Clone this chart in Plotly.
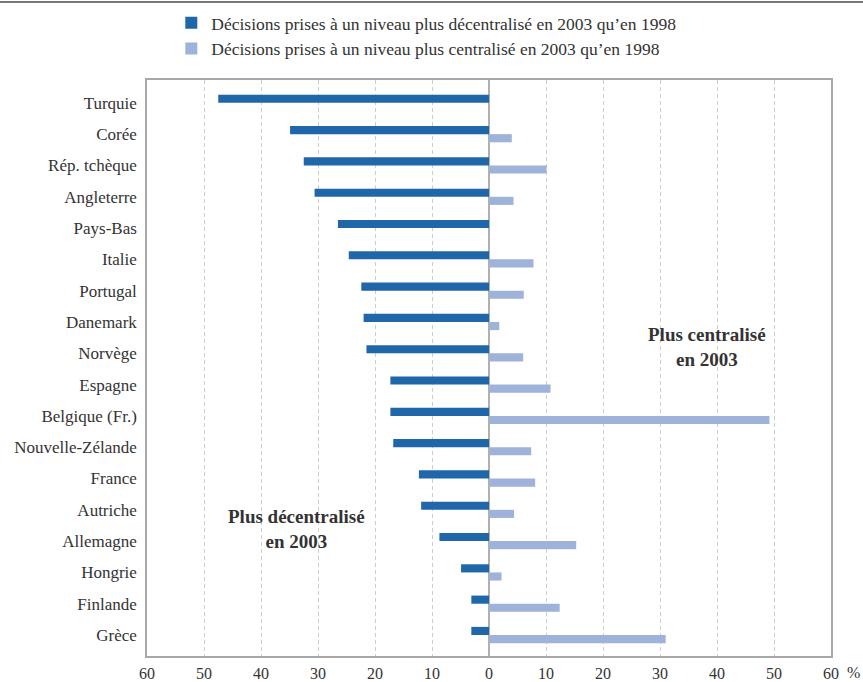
import plotly.graph_objects as go

countries = ["Turquie", "Corée", "Rép. tchèque", "Angleterre", "Pays-Bas", "Italie",
             "Portugal", "Danemark", "Norvège", "Espagne", "Belgique (Fr.)",
             "Nouvelle-Zélande", "France", "Autriche", "Allemagne", "Hongrie",
             "Finlande", "Grèce"]
decentral = [47.5, 34.9, 32.5, 30.6, 26.5, 24.6, 22.4, 22.0, 21.5, 17.3, 17.3,
             16.8, 12.3, 11.9, 8.7, 4.9, 3.1, 3.1]
central = [0, 4.0, 10.1, 4.3, 0, 7.8, 6.1, 1.8, 6.0, 10.8, 49.2,
           7.4, 8.1, 4.4, 15.3, 2.2, 12.4, 31.0]
tick_vals = [-60, -50, -40, -30, -20, -10, 0, 10, 20, 30, 40, 50, 60]
tick_text = ["60", "50", "40", "30", "20", "10", "0", "10", "20", "30", "40", "50", "60"]

name_dec = "Décisions prises à un niveau plus décentralisé en 2003 qu\u2019en 1998"
name_cen = "Décisions prises à un niveau plus centralisé en 2003 qu\u2019en 1998"

FONT = "Liberation Serif"
TXT = "#333333"

fig = go.Figure()
fig.add_trace(go.Bar(y=countries, x=[-v for v in decentral], orientation="h",
                     name=name_dec, marker=dict(color="#1f67a9", line=dict(width=0))))
fig.add_trace(go.Bar(y=countries, x=central, orientation="h",
                     name=name_cen, marker=dict(color="#9fb2da", line=dict(width=0))))

fig.update_layout(
    template="none",
    width=863, height=682,
    margin=dict(l=147, r=32, t=80, b=26, autoexpand=False),
    paper_bgcolor="white", plot_bgcolor="white",
    barmode="group", bargap=0.48, bargroupgap=0,
    font=dict(family=FONT, size=17, color=TXT),
    showlegend=True,
    legend=dict(xref="container", yref="container", x=0.1985, y=0.9927,
                xanchor="left", yanchor="top",
                orientation="v", traceorder="normal",
                font=dict(family=FONT, size=17.5, color=TXT),
                bgcolor="rgba(0,0,0,0)", itemwidth=30, tracegroupgap=0),
    xaxis=dict(range=[-60, 60], tickvals=tick_vals, ticktext=tick_text,
               automargin=False,
               showgrid=True, gridcolor="#cdcdcd", griddash="4px,3px", gridwidth=1,
               zeroline=True, zerolinecolor="#b0b0b0", zerolinewidth=1.5,
               showline=True, linecolor="#a8a8a8", linewidth=1.5, mirror=True,
               ticks="", ticklabelstandoff=2,
               tickfont=dict(family=FONT, size=16, color=TXT)),
    yaxis=dict(type="category", range=[17.67, -0.73], automargin=False,
               showgrid=False, zeroline=False,
               showline=True, linecolor="#a8a8a8", linewidth=1.5, mirror=True,
               ticks="", ticklabelstandoff=5,
               tickfont=dict(family=FONT, size=17, color=TXT)),
)

fig.add_annotation(x=38.2, y=7.8, xref="x", yref="y", showarrow=False,
                   text="<b>Plus centralisé<br>en 2003</b>",
                   font=dict(family=FONT, size=19, color=TXT), align="center")
fig.add_annotation(x=-33.8, y=13.6, xref="x", yref="y", showarrow=False,
                   text="<b>Plus décentralisé<br>en 2003</b>",
                   font=dict(family=FONT, size=19, color=TXT), align="center")
fig.add_annotation(x=1.0, y=0, xref="paper", yref="paper", xshift=22, yshift=-16,
                   showarrow=False, text="%", xanchor="center", yanchor="middle",
                   font=dict(family=FONT, size=16, color=TXT))
fig.add_shape(type="line", xref="paper", yref="paper", x0=-0.22, x1=1.06,
              y0=1.1354, y1=1.1354, line=dict(color="#777777", width=2))

fig.write_html("out.html", config={"displayModeBar": False},
               post_script="document.body.style.margin='0px';")
